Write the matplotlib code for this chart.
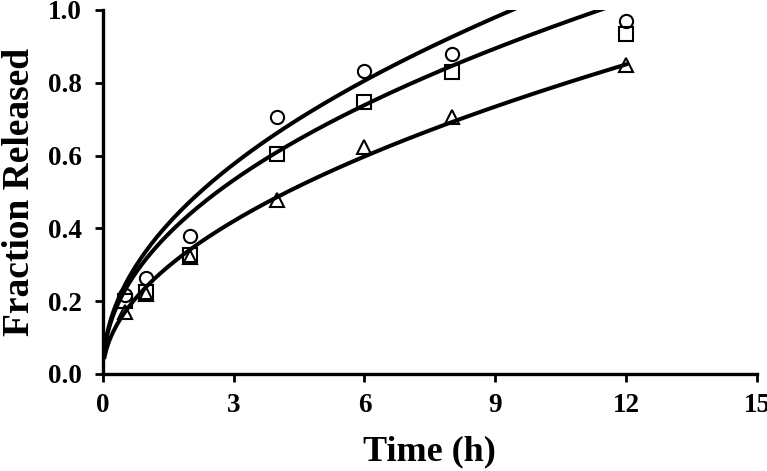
import numpy as np
import matplotlib.pyplot as plt

# measured release data (fraction released vs time)
time_h = [0.5, 1, 2, 4, 6, 8, 12]
circles = [0.217, 0.264, 0.379, 0.706, 0.833, 0.879, 0.970]
squares = [0.200, 0.225, 0.327, 0.604, 0.747, 0.830, 0.934]
triangles = [0.170, 0.220, 0.322, 0.478, 0.624, 0.706, 0.849]

# fitted power-law curves y = k * t^n, parameters
fit_k = [0.339, 0.317, 0.240]
fit_n = [0.483, 0.472, 0.509]

plt.rcParams['font.family'] = ['Liberation Serif', 'DejaVu Serif']
plt.rcParams['font.weight'] = 'bold'

fig = plt.figure(figsize=(7.67, 4.71), dpi=100)
ax = fig.add_axes([0.134, 0.206, 0.853, 0.773])

t_fit = np.linspace(0.04, 12, 300)
for k, n in zip(fit_k, fit_n):
    ax.plot(t_fit, k * t_fit ** n, color='black', lw=2.9, zorder=2)

mk = dict(linestyle='none', markerfacecolor='none', markeredgecolor='black',
          markeredgewidth=1.5, markersize=9.5, zorder=3)
ax.plot(time_h, circles, marker='o', **mk)
ax.plot(time_h, squares, marker='s', **mk)
ax.plot(time_h, triangles, marker='^', **mk)

ax.set_xlim(0, 15)
ax.set_ylim(0, 1.0)
ax.set_xticks([0, 3, 6, 9, 12, 15])
ax.set_yticks([0.0, 0.2, 0.4, 0.6, 0.8, 1.0])
ax.set_yticklabels(['0.0', '0.2', '0.4', '0.6', '0.8', '1.0'])

for side in ['top', 'right']:
    ax.spines[side].set_visible(False)
for side in ['left', 'bottom']:
    ax.spines[side].set_linewidth(2.4)

ax.tick_params(direction='out', length=6, width=2, labelsize=19.5)
ax.tick_params(axis='y', pad=9)
ax.tick_params(axis='x', pad=8)
for lab in ax.get_xticklabels() + ax.get_yticklabels():
    lab.set_fontweight('bold')

ax.set_xlabel('Time (h)', fontsize=26, fontweight='bold', labelpad=12)
ax.set_ylabel('Fraction Released', fontsize=27, fontweight='bold', labelpad=8)

fig.savefig('out.png', dpi=100)
